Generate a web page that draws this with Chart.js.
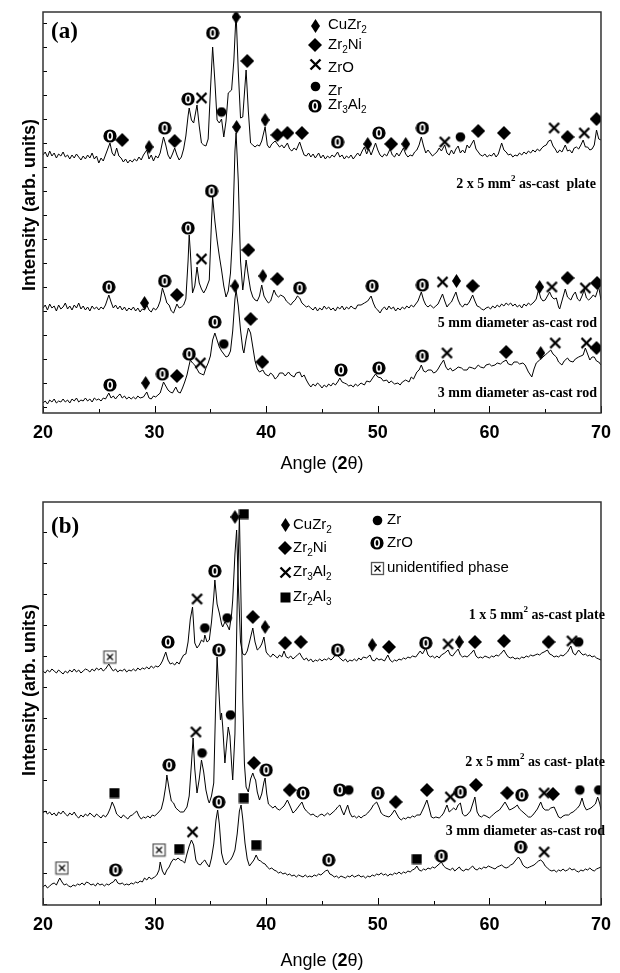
<!DOCTYPE html>
<html>
<head>
<meta charset="utf-8">
<script src="https://cdn.jsdelivr.net/npm/chart.js@4.4.1/dist/chart.umd.min.js"></script>
<style>
  html, body { margin: 0; padding: 0; background: #fff; }
  #wrap { position: relative; width: 620px; height: 973px; }
  #wrap canvas { position: absolute; left: 0; }
  #ca { top: 0; }
  #cb { top: 490px; }
</style>
</head>
<body>
<div id="wrap">
  <canvas id="ca" width="620" height="490" style="width:620px;height:490px"></canvas>
  <canvas id="cb" width="620" height="483" style="width:620px;height:483px"></canvas>
</div>
<script>
// ---- panel (a): traces, [angle 2theta, intensity arb. units] ----
const plate2x5A = [[20.0,256],[20.2,259],[20.4,254],[20.6,260],[20.8,255],[21.0,258],[21.2,253],[21.4,257],[21.6,255],[21.8,259],[22.0,254],[22.2,256],[22.4,252],[22.6,256],[22.8,253],[23.0,257],[23.2,254],[23.4,251],[23.6,255],[23.8,252],[24.0,256],[24.2,253],[24.4,258],[24.6,252],[24.8,255],[25.0,248],[25.2,253],[25.4,250],[25.6,256],[25.8,262],[26.0,268],[26.2,258],[26.4,255],[26.6,263],[26.8,255],[27.0,253],[27.2,249],[27.4,252],[27.6,248],[27.8,251],[28.0,249],[28.2,252],[28.4,250],[28.6,254],[28.8,251],[29.0,256],[29.3,261],[29.5,252],[29.7,256],[29.9,250],[30.1,255],[30.3,253],[30.5,258],[30.8,274],[31.0,266],[31.2,256],[31.4,252],[31.6,257],[31.8,263],[32.0,256],[32.2,251],[32.4,254],[32.6,262],[32.8,275],[33.0,295],[33.1,303],[33.3,291],[33.5,288],[33.7,300],[33.8,306],[34.0,285],[34.2,268],[34.4,266],[34.6,265],[34.8,272],[35.0,320],[35.2,364],[35.4,330],[35.6,291],[35.8,288],[36.0,292],[36.2,274],[36.4,290],[36.6,318],[36.9,321],[37.1,350],[37.3,398],[37.5,340],[37.7,293],[37.9,294],[38.0,310],[38.2,341],[38.4,300],[38.6,268],[38.8,266],[39.0,264],[39.2,266],[39.4,265],[39.6,270],[39.9,284],[40.1,266],[40.3,263],[40.5,267],[40.8,270],[41.0,267],[41.2,264],[41.4,266],[41.6,263],[41.9,268],[42.1,262],[42.3,260],[42.5,263],[42.7,261],[43.0,269],[43.2,262],[43.4,256],[43.6,255],[43.8,258],[44.0,254],[44.2,257],[44.4,253],[44.7,258],[44.9,253],[45.1,256],[45.3,252],[45.5,255],[45.7,253],[45.9,256],[46.1,254],[46.4,259],[46.6,254],[46.8,256],[47.0,252],[47.2,255],[47.4,253],[47.6,256],[47.8,252],[48.0,255],[48.2,258],[48.4,255],[48.6,260],[48.8,264],[49.0,257],[49.2,262],[49.4,256],[49.6,262],[49.8,268],[50.0,261],[50.2,256],[50.4,254],[50.6,257],[50.8,255],[51.1,262],[51.3,256],[51.5,254],[51.7,258],[51.9,255],[52.1,259],[52.3,263],[52.5,257],[52.7,254],[52.9,256],[53.1,255],[53.3,259],[53.5,261],[53.7,266],[53.9,274],[54.1,265],[54.3,258],[54.5,261],[54.7,258],[54.9,255],[55.1,257],[55.3,259],[55.5,263],[55.7,260],[56.0,266],[56.2,258],[56.4,256],[56.6,261],[56.8,257],[57.0,262],[57.2,265],[57.4,258],[57.6,261],[57.8,258],[58.0,266],[58.2,263],[58.4,267],[58.6,271],[58.8,262],[59.0,259],[59.2,256],[59.4,255],[59.6,257],[59.8,254],[60.0,256],[60.2,255],[60.4,258],[60.6,254],[60.8,257],[61.1,268],[61.3,261],[61.5,259],[61.7,256],[61.9,257],[62.1,254],[62.3,256],[62.5,255],[62.7,258],[62.9,256],[63.1,259],[63.3,257],[63.5,260],[63.7,258],[63.9,261],[64.1,259],[64.3,262],[64.5,260],[64.7,263],[64.9,265],[65.1,266],[65.3,270],[65.5,271],[65.7,265],[65.9,262],[66.1,258],[66.3,261],[66.5,259],[66.8,266],[67.0,260],[67.2,261],[67.4,258],[67.6,263],[67.8,264],[68.0,262],[68.2,266],[68.4,271],[68.6,264],[68.8,264],[69.0,261],[69.2,262],[69.4,266],[69.6,281],[69.8,272],[70.0,271]];

const rod5A = [[20.0,103],[20.2,106],[20.4,101],[20.6,107],[20.8,103],[21.0,105],[21.2,100],[21.4,106],[21.6,102],[21.8,104],[22.0,108],[22.2,102],[22.4,105],[22.6,101],[22.8,106],[23.0,103],[23.2,108],[23.4,102],[23.6,105],[23.8,101],[24.0,104],[24.2,100],[24.4,105],[24.6,102],[24.8,104],[25.0,101],[25.2,104],[25.4,102],[25.6,106],[25.9,116],[26.1,109],[26.3,103],[26.5,106],[26.7,102],[26.9,105],[27.1,101],[27.3,104],[27.5,100],[27.7,103],[27.9,101],[28.1,104],[28.3,100],[28.5,103],[28.7,99],[28.9,102],[29.1,101],[29.3,106],[29.5,101],[29.7,99],[29.9,103],[30.1,101],[30.3,104],[30.5,110],[30.7,123],[30.9,116],[31.1,108],[31.3,106],[31.5,100],[31.7,98],[31.9,104],[32.0,107],[32.2,103],[32.4,104],[32.6,106],[32.8,112],[33.0,150],[33.1,176],[33.2,160],[33.4,118],[33.6,125],[33.8,144],[34.0,128],[34.2,122],[34.4,118],[34.6,122],[34.8,128],[34.9,131],[35.1,190],[35.2,214],[35.4,190],[35.6,171],[35.8,155],[36.0,141],[36.2,125],[36.4,114],[36.6,120],[36.8,138],[37.0,180],[37.2,260],[37.3,278],[37.5,230],[37.7,150],[37.9,121],[38.0,130],[38.2,151],[38.4,135],[38.6,121],[38.8,114],[39.0,111],[39.2,110],[39.4,115],[39.6,126],[39.8,115],[40.0,111],[40.2,108],[40.4,110],[40.7,121],[40.9,116],[41.1,114],[41.3,116],[41.6,114],[41.8,110],[42.0,108],[42.2,106],[42.4,109],[42.6,111],[42.8,115],[43.0,113],[43.2,108],[43.4,106],[43.6,104],[43.8,105],[44.0,103],[44.2,101],[44.4,104],[44.6,100],[44.8,103],[45.0,101],[45.2,105],[45.4,102],[45.6,104],[45.8,101],[46.0,103],[46.2,100],[46.4,104],[46.6,102],[46.8,105],[47.0,101],[47.2,104],[47.4,102],[47.6,105],[47.8,103],[48.0,102],[48.2,106],[48.5,106],[48.8,108],[49.1,110],[49.4,115],[49.6,108],[49.8,103],[50.0,101],[50.2,98],[50.4,102],[50.6,104],[50.8,101],[51.0,105],[51.2,102],[51.4,104],[51.6,100],[51.8,103],[52.0,101],[52.2,104],[52.4,102],[52.6,105],[52.8,103],[53.0,106],[53.2,104],[53.4,107],[53.6,110],[53.9,119],[54.1,111],[54.3,106],[54.5,104],[54.7,106],[55.0,103],[55.2,105],[55.4,107],[55.6,112],[55.8,117],[56.0,110],[56.2,104],[56.4,107],[56.6,109],[57.0,119],[57.2,111],[57.4,106],[57.6,104],[57.8,107],[58.0,106],[58.2,109],[58.5,116],[58.7,110],[58.9,105],[59.1,104],[59.3,102],[59.5,101],[59.7,103],[59.9,104],[60.1,102],[60.3,105],[60.5,103],[60.7,106],[60.9,104],[61.1,107],[61.3,105],[61.5,108],[61.7,106],[61.9,108],[62.1,105],[62.3,107],[62.5,104],[62.7,106],[62.9,103],[63.1,107],[63.3,105],[63.5,108],[63.7,106],[64.0,109],[64.2,112],[64.4,121],[64.6,113],[64.8,110],[65.0,111],[65.2,115],[65.4,119],[65.6,114],[65.8,112],[66.0,113],[66.2,104],[66.3,102],[66.5,110],[66.8,122],[67.0,114],[67.3,111],[67.5,116],[67.7,119],[67.9,112],[68.1,110],[68.3,115],[68.5,121],[68.7,113],[68.9,111],[69.1,113],[69.3,116],[69.5,114],[69.8,124],[70.0,111]];

const rod3A = [[20.0,8],[20.2,10],[20.4,7],[20.6,11],[20.8,9],[21.0,12],[21.2,8],[21.4,10],[21.6,9],[21.8,12],[22.0,9],[22.2,11],[22.4,8],[22.6,12],[22.8,10],[23.0,13],[23.2,9],[23.4,11],[23.6,10],[23.8,13],[24.0,10],[24.2,12],[24.4,9],[24.6,13],[24.8,11],[25.0,12],[25.2,10],[25.4,13],[25.6,12],[25.9,18],[26.1,13],[26.3,15],[26.5,12],[26.7,15],[26.9,17],[27.1,13],[27.3,15],[27.5,12],[27.7,14],[27.9,12],[28.1,14],[28.3,12],[28.5,15],[28.7,13],[29.0,14],[29.3,19],[29.5,13],[29.7,12],[29.9,15],[30.1,14],[30.3,16],[30.5,18],[30.8,29],[31.0,25],[31.2,21],[31.4,19],[31.6,18],[31.9,24],[32.1,19],[32.3,18],[32.5,23],[32.7,29],[32.9,36],[33.0,41],[33.2,51],[33.4,48],[33.6,46],[33.8,42],[34.0,38],[34.2,37],[34.4,36],[34.6,43],[34.8,48],[35.0,55],[35.2,71],[35.4,78],[35.6,71],[35.8,64],[36.0,60],[36.2,57],[36.4,54],[36.6,55],[36.8,60],[37.0,80],[37.2,112],[37.3,121],[37.5,105],[37.7,81],[37.9,62],[38.0,58],[38.2,72],[38.4,83],[38.6,78],[38.8,64],[39.0,50],[39.2,42],[39.4,39],[39.7,41],[39.9,37],[40.2,35],[40.4,38],[40.6,36],[40.8,32],[41.0,34],[41.2,38],[41.5,38],[41.7,35],[42.0,39],[42.2,36],[42.5,34],[42.7,38],[43.0,39],[43.2,34],[43.4,36],[43.6,31],[43.8,27],[44.0,24],[44.2,27],[44.4,25],[44.6,28],[44.8,26],[45.0,23],[45.2,26],[45.4,24],[45.6,27],[45.8,25],[46.0,28],[46.2,26],[46.4,29],[46.6,33],[46.8,29],[47.0,28],[47.2,27],[47.4,25],[47.6,26],[47.8,24],[48.0,27],[48.2,25],[48.5,28],[48.8,26],[49.0,30],[49.3,29],[49.6,34],[49.8,37],[50.0,34],[50.3,33],[50.5,30],[50.8,31],[51.0,28],[51.2,30],[51.5,27],[51.8,28],[52.0,26],[52.2,29],[52.5,31],[52.8,29],[53.0,34],[53.2,32],[53.5,39],[53.7,41],[53.9,46],[54.1,40],[54.3,39],[54.5,41],[54.8,41],[55.0,38],[55.2,39],[55.4,42],[55.6,46],[55.9,51],[56.1,44],[56.3,41],[56.5,43],[56.7,40],[57.0,42],[57.2,44],[57.5,43],[57.7,41],[58.0,41],[58.2,44],[58.5,43],[58.7,42],[59.0,46],[59.2,44],[59.5,43],[59.7,46],[60.0,47],[60.2,45],[60.5,46],[60.7,48],[61.0,47],[61.2,49],[61.5,51],[61.7,47],[62.0,46],[62.2,49],[62.5,49],[62.7,47],[63.0,48],[63.2,46],[63.5,39],[63.8,34],[64.0,42],[64.2,48],[64.5,51],[64.7,53],[65.0,56],[65.2,58],[65.5,61],[65.7,57],[66.0,54],[66.2,49],[66.5,46],[66.7,50],[67.0,53],[67.2,50],[67.5,49],[67.7,52],[68.0,54],[68.2,55],[68.4,56],[68.6,63],[68.8,57],[69.0,51],[69.2,54],[69.4,54],[69.6,50],[69.8,49],[70.0,46]];

// ---- panel (a): phase markers ----
const cuZr2A = [[29.5,264],[37.3,394],[39.9,291],[49.1,267],[52.5,267],[29.1,108],[37.35,284],[39.7,135],[57.05,130],[64.5,124],[29.2,28],[37.2,125],[64.6,58]];
const zr2NiA = [[27.1,271],[31.8,270],[38.3,350],[41.0,276],[41.9,278],[43.2,278],[51.2,267],[59.0,280],[61.3,278],[67.0,274],[69.6,292],[32.0,116],[38.4,161],[41.0,132],[58.5,125],[67.0,133],[69.65,128],[32.0,35],[38.6,92],[39.65,49],[61.5,59],[69.6,63]];
const zrOA = [[34.2,313],[56.0,269],[65.8,283],[68.5,278],[34.2,152],[55.8,129],[65.6,124],[68.6,123],[34.1,48],[56.2,58],[65.9,68],[68.7,68]];
const zrA = [[36.0,299],[57.4,274],[36.2,67]];
const zr3Al2A = [[26.0,275],[30.9,283],[33.0,312],[35.2,378],[46.4,269],[50.1,278],[54.0,283],[25.9,124],[30.9,130],[33.0,183],[35.1,220],[43.0,123],[49.5,125],[54.0,126],[26.0,26],[30.7,37],[33.1,57],[35.4,89],[46.7,41],[50.1,43],[54.0,55]];

// ---- panel (b): traces ----
const plate1x5B = [[20.0,233],[20.2,231],[20.4,234],[20.6,232],[20.8,235],[21.0,233],[21.2,231],[21.4,234],[21.6,232],[21.8,230],[22.0,233],[22.2,231],[22.4,234],[22.6,232],[22.8,235],[23.0,232],[23.2,234],[23.4,231],[23.6,233],[23.8,235],[24.0,234],[24.2,232],[24.4,235],[24.6,233],[24.8,236],[25.0,234],[25.2,236],[25.4,233],[25.6,235],[25.9,240],[26.1,236],[26.3,233],[26.5,235],[26.7,232],[26.9,234],[27.1,233],[27.3,235],[27.5,232],[27.7,234],[27.9,233],[28.1,235],[28.3,233],[28.5,236],[28.7,234],[28.9,236],[29.1,235],[29.3,237],[29.5,235],[29.7,238],[29.9,236],[30.1,238],[30.3,237],[30.5,239],[30.7,243],[31.0,252],[31.2,244],[31.4,240],[31.6,241],[31.8,239],[32.0,242],[32.2,240],[32.4,245],[32.6,249],[32.8,250],[33.0,262],[33.2,285],[33.4,297],[33.6,261],[33.8,256],[34.0,259],[34.2,264],[34.4,262],[34.5,269],[34.7,262],[34.9,264],[35.1,282],[35.3,307],[35.4,324],[35.6,300],[35.8,291],[36.0,280],[36.1,277],[36.3,282],[36.5,279],[36.7,274],[36.9,290],[37.0,304],[37.2,350],[37.35,374],[37.5,320],[37.7,262],[37.9,250],[38.1,249],[38.3,253],[38.5,262],[38.8,276],[39.0,262],[39.2,254],[39.4,256],[39.6,260],[39.8,267],[40.0,252],[40.2,249],[40.4,247],[40.6,250],[40.8,248],[41.0,246],[41.2,249],[41.4,247],[41.6,253],[41.8,247],[42.0,246],[42.2,248],[42.4,245],[42.6,247],[42.8,249],[43.0,251],[43.2,247],[43.4,244],[43.6,246],[43.8,243],[44.0,245],[44.2,242],[44.4,244],[44.6,243],[44.8,245],[45.0,243],[45.2,245],[45.4,244],[45.6,246],[45.8,244],[46.0,246],[46.3,251],[46.5,247],[46.7,245],[46.9,243],[47.1,245],[47.3,242],[47.5,244],[47.7,243],[47.9,245],[48.1,243],[48.3,246],[48.5,244],[48.7,247],[49.0,246],[49.3,249],[49.5,244],[49.7,243],[49.9,246],[50.1,244],[50.3,245],[50.6,243],[50.9,249],[51.1,244],[51.3,242],[51.5,244],[51.7,243],[51.9,245],[52.1,244],[52.3,246],[52.5,245],[52.7,247],[52.9,246],[53.1,248],[53.4,247],[53.6,250],[53.8,253],[54.0,250],[54.3,256],[54.5,249],[54.7,247],[54.9,248],[55.1,246],[55.3,248],[55.5,246],[55.7,249],[56.0,251],[56.3,254],[56.5,249],[56.7,248],[56.9,251],[57.2,255],[57.4,249],[57.6,247],[57.8,248],[58.0,247],[58.3,250],[58.6,254],[58.8,248],[59.0,246],[59.2,247],[59.4,246],[59.6,248],[59.8,247],[60.0,246],[60.2,248],[60.4,247],[60.6,249],[60.8,248],[61.0,250],[61.3,254],[61.5,250],[61.7,247],[61.9,246],[62.1,247],[62.3,245],[62.5,246],[62.7,245],[62.9,247],[63.1,246],[63.3,248],[63.5,247],[63.7,249],[63.9,248],[64.1,249],[64.3,250],[64.5,249],[64.7,251],[64.9,252],[65.2,254],[65.4,250],[65.6,249],[65.8,247],[66.0,248],[66.2,247],[66.4,249],[66.6,248],[66.8,250],[67.0,252],[67.3,258],[67.5,251],[67.7,249],[68.0,254],[68.2,251],[68.4,249],[68.6,250],[68.8,248],[69.0,249],[69.2,247],[69.4,248],[69.6,246],[69.8,245],[70.0,244]];

const plate2x5B = [[20.0,91],[20.2,93],[20.4,90],[20.6,92],[20.8,89],[21.0,91],[21.2,88],[21.4,92],[21.6,90],[21.8,93],[22.0,90],[22.2,88],[22.4,91],[22.6,89],[22.8,92],[23.0,88],[23.2,86],[23.4,89],[23.6,87],[23.8,90],[24.0,88],[24.2,91],[24.4,89],[24.6,87],[24.8,90],[25.0,88],[25.2,86],[25.4,89],[25.6,87],[25.8,90],[26.0,95],[26.2,102],[26.4,97],[26.6,90],[26.8,88],[27.0,86],[27.2,89],[27.4,87],[27.6,85],[27.8,88],[28.0,89],[28.2,91],[28.4,93],[28.6,88],[28.8,85],[29.0,87],[29.2,86],[29.4,88],[29.6,86],[29.8,89],[30.0,88],[30.3,91],[30.6,95],[30.8,104],[31.0,118],[31.1,129],[31.3,115],[31.5,103],[31.7,101],[31.9,96],[32.1,94],[32.3,92],[32.6,92],[32.9,97],[33.1,108],[33.3,140],[33.45,166],[33.6,135],[33.8,111],[34.0,125],[34.2,144],[34.4,132],[34.6,114],[34.8,104],[34.9,101],[35.1,108],[35.3,121],[35.45,190],[35.6,247],[35.75,215],[35.9,184],[36.0,191],[36.1,178],[36.3,141],[36.45,160],[36.6,177],[36.75,168],[36.9,140],[37.0,124],[37.2,170],[37.4,300],[37.6,389],[37.75,300],[37.9,204],[38.05,140],[38.2,117],[38.4,112],[38.6,125],[38.8,131],[38.95,126],[39.05,124],[39.2,112],[39.4,104],[39.6,110],[39.8,122],[39.9,126],[40.05,110],[40.2,100],[40.4,98],[40.6,96],[40.8,98],[41.0,95],[41.2,94],[41.4,96],[41.6,98],[41.9,104],[42.1,99],[42.4,91],[42.6,93],[42.8,96],[43.0,99],[43.2,102],[43.4,96],[43.6,93],[43.8,91],[44.0,89],[44.2,90],[44.4,88],[44.6,87],[44.8,89],[45.0,90],[45.2,88],[45.5,91],[45.7,89],[46.0,92],[46.2,94],[46.4,97],[46.6,99],[46.8,93],[46.96,89],[47.1,93],[47.3,99],[47.5,91],[47.7,87],[47.9,88],[48.1,86],[48.3,88],[48.5,86],[48.7,88],[48.9,89],[49.1,91],[49.4,95],[49.6,99],[49.9,102],[50.1,97],[50.3,91],[50.5,89],[50.7,88],[51.0,87],[51.2,89],[51.5,94],[51.7,90],[51.9,86],[52.1,84],[52.3,86],[52.5,85],[52.7,87],[52.9,86],[53.1,88],[53.3,87],[53.5,89],[53.8,89],[54.1,96],[54.4,104],[54.6,96],[54.8,87],[55.0,86],[55.2,87],[55.5,86],[55.7,88],[55.9,91],[56.2,99],[56.4,92],[56.6,94],[56.8,96],[57.0,94],[57.2,99],[57.4,101],[57.6,90],[57.8,88],[58.0,89],[58.3,93],[58.5,100],[58.7,107],[58.9,92],[59.1,88],[59.3,87],[59.5,89],[59.7,88],[60.0,86],[60.2,88],[60.4,90],[60.6,92],[60.9,94],[61.1,97],[61.4,102],[61.6,98],[61.8,94],[62.0,95],[62.3,97],[62.5,99],[62.7,95],[62.9,93],[63.1,91],[63.3,89],[63.5,87],[63.7,87],[63.9,89],[64.1,92],[64.3,95],[64.6,102],[64.8,96],[65.0,94],[65.3,94],[65.5,96],[65.8,97],[66.0,92],[66.2,87],[66.4,86],[66.6,88],[66.8,89],[67.1,89],[67.3,91],[67.5,92],[67.7,94],[67.9,96],[68.1,99],[68.3,106],[68.5,98],[68.7,94],[68.9,95],[69.1,96],[69.3,98],[69.5,100],[69.7,107],[69.9,100],[70.0,94]];

const rod3B = [[20.0,17],[20.2,19],[20.4,16],[20.6,18],[20.8,20],[21.0,21],[21.2,19],[21.5,26],[21.7,22],[21.9,19],[22.1,20],[22.3,18],[22.5,17],[22.7,19],[22.9,18],[23.1,20],[23.3,19],[23.5,21],[23.7,19],[23.9,22],[24.1,21],[24.3,19],[24.5,20],[24.7,18],[24.9,21],[25.1,19],[25.3,20],[25.5,18],[25.7,20],[25.9,19],[26.1,21],[26.3,22],[26.5,25],[26.7,21],[26.9,20],[27.1,21],[27.3,19],[27.5,20],[27.7,19],[27.9,21],[28.1,20],[28.3,22],[28.5,21],[28.7,23],[28.9,22],[29.1,26],[29.3,24],[29.5,27],[29.7,25],[30.0,27],[30.2,29],[30.4,34],[30.5,42],[30.7,33],[30.9,29],[31.1,34],[31.3,37],[31.5,42],[31.7,45],[31.9,44],[32.1,46],[32.3,44],[32.5,43],[32.7,41],[32.9,50],[33.1,58],[33.3,64],[33.5,59],[33.7,44],[33.9,40],[34.1,39],[34.3,42],[34.5,44],[34.7,40],[34.9,37],[35.1,46],[35.3,60],[35.5,84],[35.65,94],[35.8,80],[36.0,51],[36.2,42],[36.4,39],[36.6,42],[36.8,44],[37.0,48],[37.2,54],[37.4,70],[37.6,93],[37.75,99],[37.9,85],[38.1,61],[38.3,45],[38.5,38],[38.7,41],[38.9,44],[39.1,49],[39.3,44],[39.5,43],[39.7,41],[39.9,40],[40.1,37],[40.3,35],[40.5,36],[40.7,34],[40.9,33],[41.1,31],[41.3,32],[41.5,30],[41.7,31],[41.9,29],[42.1,30],[42.3,28],[42.5,29],[42.7,27],[42.9,29],[43.1,28],[43.3,27],[43.5,29],[43.7,27],[43.9,28],[44.1,27],[44.3,29],[44.5,28],[44.7,30],[44.9,29],[45.1,31],[45.3,33],[45.5,34],[45.7,30],[45.9,29],[46.1,27],[46.3,28],[46.5,26],[46.7,28],[46.9,27],[47.1,26],[47.3,28],[47.5,27],[47.7,29],[47.9,27],[48.1,28],[48.3,29],[48.5,27],[48.7,28],[48.9,26],[49.1,28],[49.3,27],[49.5,29],[49.7,28],[49.9,30],[50.1,29],[50.3,31],[50.5,29],[50.7,30],[50.9,28],[51.1,30],[51.3,29],[51.5,31],[51.7,30],[51.9,32],[52.1,30],[52.3,32],[52.5,31],[52.7,33],[52.9,32],[53.1,34],[53.3,35],[53.5,38],[53.7,34],[53.9,33],[54.1,35],[54.3,34],[54.5,36],[54.7,35],[54.9,37],[55.1,36],[55.3,38],[55.5,40],[55.7,42],[55.9,38],[56.1,36],[56.3,35],[56.5,34],[56.7,36],[56.9,33],[57.1,35],[57.3,37],[57.5,34],[57.7,33],[57.9,35],[58.1,34],[58.3,36],[58.5,38],[58.7,35],[58.9,34],[59.1,36],[59.3,35],[59.5,37],[59.7,36],[59.9,38],[60.1,37],[60.3,36],[60.5,35],[60.7,37],[60.9,38],[61.1,39],[61.3,37],[61.5,36],[61.7,37],[61.9,39],[62.1,40],[62.3,43],[62.6,47],[62.8,44],[63.0,39],[63.2,37],[63.4,36],[63.6,37],[63.8,38],[64.0,39],[64.2,41],[64.4,43],[64.6,44],[64.8,42],[65.0,38],[65.2,36],[65.4,34],[65.6,33],[65.8,34],[66.0,32],[66.2,34],[66.4,33],[66.6,35],[66.8,33],[67.0,34],[67.2,36],[67.4,34],[67.6,35],[67.8,33],[68.0,32],[68.2,34],[68.4,33],[68.6,35],[68.8,34],[69.0,36],[69.2,34],[69.4,33],[69.6,35],[69.8,36],[70.0,37]];

// ---- panel (b): phase markers ----
const cuZr2B = [[37.2,387],[39.9,277],[49.5,259],[57.3,262]];
const zr2NiB = [[38.8,287],[41.7,261],[43.1,262],[51.0,257],[58.7,262],[61.3,263],[65.3,262],[38.9,141],[42.1,114],[51.6,102],[54.4,114],[58.8,119],[61.6,111],[65.7,110]];
const zr3Al2B = [[33.8,305],[56.3,260],[67.4,263],[33.7,172],[56.5,107],[64.9,111],[33.4,72],[64.9,52]];
const zr2Al3B = [[38.0,390],[26.4,111],[32.2,55],[38.0,106],[39.1,59],[53.5,45]];
const zrB = [[34.5,276],[36.5,286],[68.0,262],[34.25,151],[36.8,189],[47.4,114],[68.1,114],[69.8,114]];
const zrOB = [[31.2,262],[35.4,333],[46.4,254],[54.3,261],[31.3,139],[35.75,254],[40.0,134],[43.3,111],[46.6,114],[50.0,111],[57.4,112],[62.9,109],[26.5,34],[35.75,102],[45.6,44],[55.7,48],[62.8,57]];
const unknownB = [[26.0,247],[21.7,36],[30.4,54]];

// ---- marker glyphs ----
function glyph(w, h, draw) {
  const c = document.createElement('canvas');
  c.width = w; c.height = h;
  const g = c.getContext('2d');
  g.fillStyle = '#000'; g.strokeStyle = '#000';
  draw(g, w, h);
  return c;
}
function diamond(g, w, h) {
  g.beginPath();
  g.moveTo(w / 2, 0); g.lineTo(w, h / 2); g.lineTo(w / 2, h); g.lineTo(0, h / 2);
  g.closePath(); g.fill();
}
const MARK = {
  cuzr2: glyph(9, 14, diamond),
  zr2ni: glyph(14, 14, diamond),
  cross: glyph(13, 13, g => {
    g.lineWidth = 2.4;
    g.beginPath(); g.moveTo(1.5, 1.5); g.lineTo(11.5, 11.5); g.moveTo(11.5, 1.5); g.lineTo(1.5, 11.5); g.stroke();
  }),
  dot: glyph(11, 11, g => { g.beginPath(); g.arc(5.5, 5.5, 4.8, 0, Math.PI * 2); g.fill(); }),
  zero: glyph(14, 14, g => {
    g.beginPath(); g.arc(7, 7, 6.6, 0, Math.PI * 2); g.fill();
    g.strokeStyle = '#fff'; g.lineWidth = 1.6;
    g.beginPath(); g.ellipse(7, 7, 2.2, 3.7, 0, 0, Math.PI * 2); g.stroke();
  }),
  square: glyph(11, 11, g => g.fillRect(0.5, 0.5, 10, 10)),
  boxx: glyph(15, 15, g => {
    g.fillStyle = '#fff'; g.fillRect(1, 1, 13, 13);
    g.strokeStyle = '#555'; g.lineWidth = 1.3; g.strokeRect(1.5, 1.5, 12, 12);
    g.strokeStyle = '#000'; g.lineWidth = 1.2;
    g.beginPath(); g.moveTo(4.5, 4.5); g.lineTo(10.5, 10.5); g.moveTo(10.5, 4.5); g.lineTo(4.5, 10.5); g.stroke();
  })
};

// ---- text helpers ----
const SANS = 'Liberation Sans, Arial, sans-serif';
const SERIF = 'Liberation Serif, Times New Roman, serif';

// "_2" -> subscript 2, "^2" -> superscript 2
function rich(str, base, small, sub, sup) {
  const segs = [];
  let buf = '';
  for (let i = 0; i < str.length; i++) {
    const c = str[i];
    if ((c === '_' || c === '^') && i + 1 < str.length) {
      if (buf) { segs.push({ t: buf, f: base, dy: 0 }); buf = ''; }
      segs.push({ t: str[i + 1], f: small, dy: c === '_' ? sub : sup });
      i++;
    } else buf += c;
  }
  if (buf) segs.push({ t: buf, f: base, dy: 0 });
  return segs;
}
function drawRich(ctx, segs, x, y, align) {
  let w = 0;
  segs.forEach(s => { ctx.font = s.f; w += ctx.measureText(s.t).width; });
  let cx = align === 'right' ? x - w : align === 'center' ? x - w / 2 : x;
  ctx.textAlign = 'left';
  ctx.textBaseline = 'middle';
  segs.forEach(s => { ctx.font = s.f; ctx.fillText(s.t, cx, y + s.dy); cx += ctx.measureText(s.t).width; });
}

// frame, inward ticks, labels, legend
const decor = {
  id: 'decor',
  afterDraw(chart, args, o) {
    const { ctx, chartArea: a, scales: { x, y } } = chart;
    ctx.save();
    ctx.strokeStyle = '#000';
    ctx.lineWidth = 1;
    ctx.beginPath();
    for (let v = 20; v <= 70; v += 5) {
      const px = Math.round(x.getPixelForValue(v)) + 0.5;
      ctx.moveTo(px, a.bottom); ctx.lineTo(px, a.bottom - (v % 10 === 0 ? 7 : 4));
    }
    for (let v = o.yTick0; v < y.max; v += o.yStep) {
      if (v <= y.min) continue;
      const py = Math.round(y.getPixelForValue(v)) + 0.5;
      ctx.moveTo(a.left, py); ctx.lineTo(a.left + 4, py);
    }
    ctx.stroke();
    ctx.lineWidth = 1.5;
    ctx.strokeStyle = '#333';
    ctx.strokeRect(a.left, a.top, a.right - a.left, a.bottom - a.top);

    ctx.fillStyle = '#000';
    ctx.font = 'bold 23px ' + SERIF;
    ctx.textAlign = 'left'; ctx.textBaseline = 'middle';
    ctx.fillText(o.tag, 51, o.tagY);

    o.legend.forEach(([key, mx, my, label, tx, ty]) => {
      const m = MARK[key];
      ctx.drawImage(m, Math.round(mx - m.width / 2), Math.round(my - m.height / 2));
      drawRich(ctx, rich(label, '15px ' + SANS, '10px ' + SANS, 5, -5), tx, ty, 'left');
    });

    o.curves.forEach(([label, rx, cy]) => {
      drawRich(ctx, rich(label, 'bold 14px ' + SERIF, 'bold 9px ' + SERIF, 5, -5), rx, cy, 'right');
    });

    ctx.save();
    ctx.translate(30, o.yTitleY);
    ctx.rotate(-Math.PI / 2);
    ctx.font = 'bold 18px ' + SANS;
    ctx.textAlign = 'center'; ctx.textBaseline = 'middle';
    ctx.fillText('Intensity (arb. units)', 0, 0);
    ctx.restore();

    drawRich(ctx, [
      { t: 'Angle (', f: '18px ' + SANS, dy: 0 },
      { t: '2', f: 'bold 18px ' + SANS, dy: 0 },
      { t: 'θ)', f: '18px ' + SANS, dy: 0 }
    ], (a.left + a.right) / 2, a.bottom + o.titleGap, 'center');
    ctx.restore();
  }
};

function trace(pts) {
  return {
    data: pts.map(p => ({ x: p[0], y: p[1] })),
    showLine: true, borderColor: '#000', borderWidth: 1,
    pointRadius: 0, pointHoverRadius: 0, tension: 0, order: 2
  };
}
function marks(pts, key) {
  return {
    data: pts.map(p => ({ x: p[0], y: p[1] })),
    showLine: false, pointStyle: MARK[key], pointRadius: 6, order: 1
  };
}

function makePanel(id, datasets, yMin, yMax, axisH, deco) {
  return new Chart(document.getElementById(id), {
    type: 'scatter',
    data: { datasets },
    options: {
      responsive: false,
      animation: false,
      layout: { padding: { left: 43, right: 12, top: 12, bottom: 0 } },
      plugins: { legend: { display: false }, tooltip: { enabled: false }, decor: deco },
      scales: {
        x: {
          type: 'linear', min: 20, max: 70,
          afterFit: s => { s.height = axisH; },
          grid: { display: false, drawTicks: false },
          border: { display: false },
          ticks: { stepSize: 10, padding: 9, color: '#000', font: { family: SANS, size: 18, weight: 'bold' } }
        },
        y: { display: false, min: yMin, max: yMax }
      }
    },
    plugins: [decor]
  });
}

// panel (a): plot area 12..413 px
makePanel('ca', [
  trace(plate2x5A), trace(rod5A), trace(rod3A),
  marks(cuZr2A, 'cuzr2'), marks(zr2NiA, 'zr2ni'), marks(zrOA, 'cross'),
  marks(zrA, 'dot'), marks(zr3Al2A, 'zero')
], -2, 399, 77, {
  yTick0: 4, yStep: 24, tag: '(a)', tagY: 32, titleGap: 51, yTitleY: 205,
  legend: [
    ['cuzr2', 315, 26, 'CuZr_2', 328, 25],
    ['zr2ni', 315, 45, 'Zr_2Ni', 328, 45],
    ['cross', 315, 64, 'ZrO', 328, 68],
    ['dot', 315, 86, 'Zr', 328, 91],
    ['zero', 315, 106, 'Zr_3Al_2', 328, 105]
  ],
  curves: [
    ['2 x 5 mm^2 as-cast  plate', 596, 184],
    ['5 mm diameter as-cast rod', 597, 323],
    ['3 mm diameter as-cast rod', 597, 393]
  ]
});

// panel (b): plot area 502..905 px
makePanel('cb', [
  trace(plate1x5B), trace(plate2x5B), trace(rod3B),
  marks(cuZr2B, 'cuzr2'), marks(zr2NiB, 'zr2ni'), marks(zr3Al2B, 'cross'),
  marks(zr2Al3B, 'square'), marks(zrB, 'dot'), marks(zrOB, 'zero'), marks(unknownB, 'boxx')
], -1, 402, 68, {
  yTick0: 0, yStep: 31, tag: '(b)', tagY: 37, titleGap: 56, yTitleY: 200,
  legend: [
    ['cuzr2', 285, 35, 'CuZr_2', 293, 35],
    ['zr2ni', 285, 58, 'Zr_2Ni', 293, 58],
    ['cross', 285, 82, 'Zr_3Al_2', 293, 82],
    ['square', 285, 107, 'Zr_2Al_3', 293, 107],
    ['dot', 377, 30, 'Zr', 387, 30],
    ['zero', 377, 53, 'ZrO', 387, 53],
    ['boxx', 377, 78, 'unidentified phase', 387, 78]
  ],
  curves: [
    ['1 x 5 mm^2 as-cast plate', 605, 125],
    ['2 x 5 mm^2 as cast- plate', 605, 272],
    ['3 mm diameter as-cast rod', 605, 341]
  ]
});
</script>
</body>
</html>
